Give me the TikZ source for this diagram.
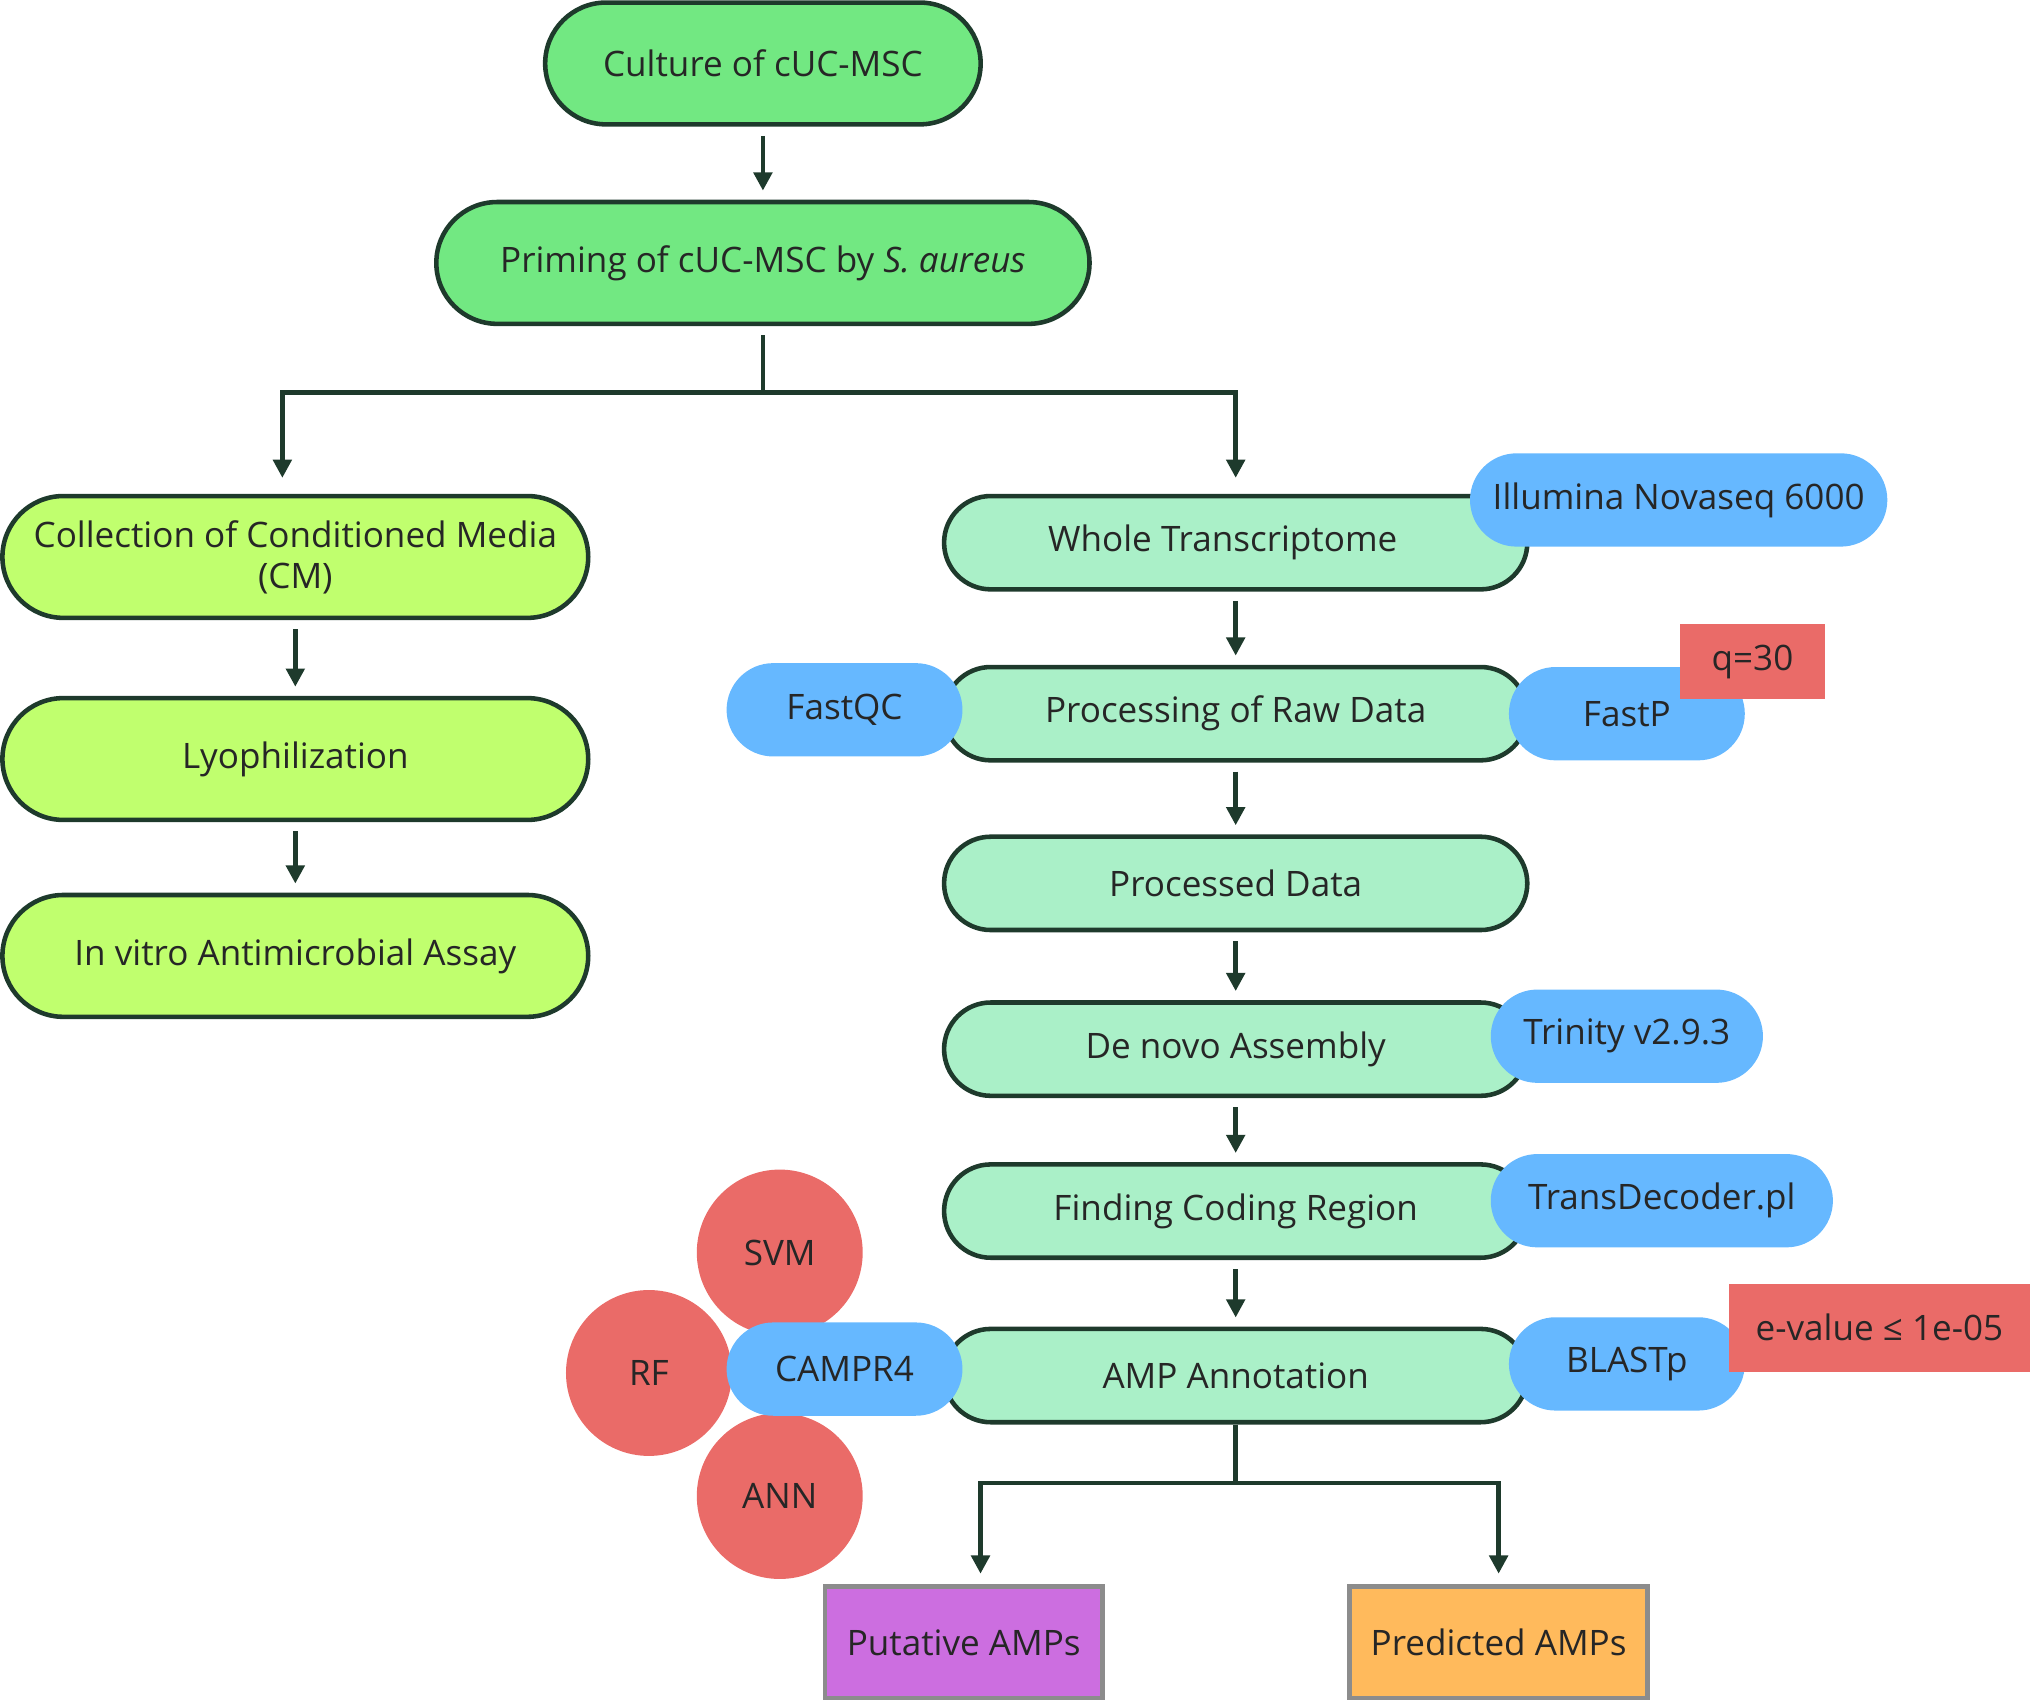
\documentclass[tikz,border=0pt]{standalone}
\usepackage{fontspec}
\setmainfont{Open Sans}
\usetikzlibrary{arrows.meta}
\definecolor{gA}{HTML}{72E882}
\definecolor{gB}{HTML}{C0FF6E}
\definecolor{gC}{HTML}{AAF0C8}
\definecolor{bl}{HTML}{66B8FF}
\definecolor{rd}{HTML}{EA6B68}
\definecolor{pu}{HTML}{CC6EE0}
\definecolor{or}{HTML}{FFBA5C}
\definecolor{ln}{HTML}{1E3A2C}
\begin{document}
\begin{tikzpicture}[x=0.01cm,y=-0.01cm,
  every node/.style={font=\fontsize{7.7pt}{9pt}\selectfont, text=black!85, align=center, inner sep=0pt},
  pill/.style={draw=ln, line width=1pt, rounded corners=0.47cm, minimum height=0.94cm},
  p1/.style={pill, fill=gA},
  p2/.style={pill, fill=gB, minimum width=4.52cm},
  p3/.style={draw=ln, line width=1pt, fill=gC, rounded corners=0.36cm, minimum height=0.72cm, minimum width=4.5cm},
  tool/.style={fill=bl, rounded corners=0.36cm, minimum height=0.72cm},
  rbox/.style={fill=rd},
  circ/.style={circle, fill=rd, minimum size=1.28cm},
  arr/.style={-{Triangle[length=4pt,width=4pt]}, draw=ln, line width=1pt, shorten <=2pt, shorten >=2pt}]
\useasboundingbox (0,0) rectangle (1568,1313);
\node[p1, minimum width=3.36cm] (cul) at (589,49) {Culture of cUC-MSC};
\node[p1, minimum width=5.04cm] (pri) at (589,203) {Priming of cUC-MSC by \textit{S. aureus}};
\node[p2] (col) at (228,430) {Collection of Conditioned Media\\(CM)};
\node[p2] (lyo) at (228,586) {Lyophilization};
\node[p2] (inv) at (228,738) {In vitro Antimicrobial Assay};

\node[p3] (wt) at (954,419) {\hspace*{-0.2cm}Whole Transcriptome};
\node[tool, minimum width=3.22cm] (ill) at (1296,386) {Illumina Novaseq 6000};
\node[p3] (raw) at (954,551) {Processing of Raw Data};
\node[tool, minimum width=1.82cm] (fqc) at (652,548) {FastQC};
\node[tool, minimum width=1.82cm] (fp) at (1256,551) {FastP};
\node[rbox, minimum width=1.12cm, minimum height=0.58cm] (q) at (1353,511) {q=30};
\node[p3] (pd) at (954,682) {Processed Data};
\node[p3] (dn) at (954,810) {De novo Assembly};
\node[tool, minimum width=2.1cm] (tri) at (1256,800) {Trinity v2.9.3};
\node[p3] (fc) at (954,935) {Finding Coding Region};
\node[tool, minimum width=2.64cm] (td) at (1283,927) {TransDecoder.pl};
\node[circ] (svm) at (602,967) {SVM};
\node[circ] (rf) at (501,1060) {RF};
\node[circ] (ann) at (602,1155) {ANN};
\node[p3] (amp) at (954,1062) {AMP Annotation};
\node[tool, minimum width=1.82cm] (cam) at (652,1057) {CAMPR4};
\node[tool, minimum width=1.82cm] (bla) at (1256,1053) {BLASTp};
\node[rbox, minimum width=2.32cm, minimum height=0.68cm] (ev) at (1451,1025) {e-value ≤ 1e-05};
\node[draw=black!45, line width=1pt, fill=pu, minimum width=2.14cm, minimum height=0.86cm] (put) at (744,1268) {Putative AMPs};
\node[draw=black!45, line width=1pt, fill=or, minimum width=2.3cm, minimum height=0.86cm] (pre) at (1157,1268) {Predicted AMPs};

\draw[arr] (cul) -- (pri);
\draw[arr] (col) -- (lyo);
\draw[arr] (lyo) -- (inv);
\draw[arr] (wt) -- (raw);
\draw[arr] (raw) -- (pd);
\draw[arr] (pd) -- (dn);
\draw[arr] (dn) -- (fc);
\draw[arr] (fc) -- (amp);
\coordinate (b1) at (589,303);
\coordinate (b2) at (954,1145);
\draw[arr, shorten >=4pt] (pri.south) -- (b1) -| (218,383);
\draw[arr, shorten >=4pt] (pri.south) -- (b1) -| (954,383);
\draw[arr, shorten <=0pt] (amp.south) -- (b2) -| (757,1222);
\draw[arr, shorten <=0pt] (amp.south) -- (b2) -| (1157,1222);
\end{tikzpicture}
\end{document}
